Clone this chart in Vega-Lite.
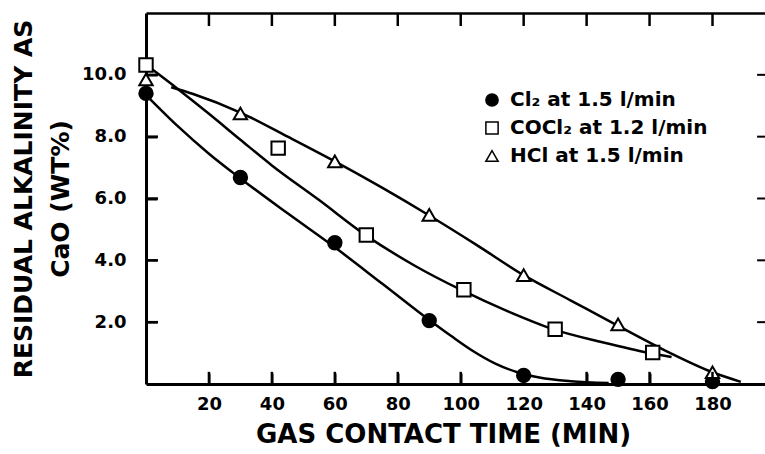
{
  "$schema": "https://vega.github.io/schema/vega-lite/v6.json",
  "width": 620,
  "height": 371,
  "autosize": {"type": "none"},
  "padding": {"left": 146, "top": 13, "right": 0, "bottom": 70},
  "background": "white",
  "config": {
    "view": {"stroke": null},
    "font": "DejaVu Sans",
    "scale": {"continuousPadding": 0},
    "axis": {
      "domainColor": "black",
      "labelColor": "black",
      "titleColor": "black",
      "grid": false,
      "zindex": 1,
      "labelFont": "DejaVu Sans",
      "titleFont": "DejaVu Sans",
      "labelFontWeight": "bold",
      "titleFontWeight": "bold",
      "labelFontSize": 18,
      "titleFontSize": 25,
      "domainWidth": 3
    },
    "legend": {
      "labelFont": "DejaVu Sans",
      "labelFontSize": 20,
      "labelFontWeight": "bold",
      "labelColor": "black",
      "labelLimit": 0,
      "symbolSize": 150
    }
  },
  "datasets": {
    "xticks": [{"t": 20}, {"t": 40}, {"t": 60}, {"t": 80}, {"t": 100}, {"t": 120}, {"t": 140}, {"t": 160}, {"t": 180}],
    "yticks": [{"v": 2}, {"v": 4}, {"v": 6}, {"v": 8}, {"v": 10}],
    "points": [
      {"gas": "Cl₂ at 1.5 l/min", "t": 0, "v": 9.4},
      {"gas": "Cl₂ at 1.5 l/min", "t": 30, "v": 6.68},
      {"gas": "Cl₂ at 1.5 l/min", "t": 60, "v": 4.57},
      {"gas": "Cl₂ at 1.5 l/min", "t": 90, "v": 2.05},
      {"gas": "Cl₂ at 1.5 l/min", "t": 120, "v": 0.28},
      {"gas": "Cl₂ at 1.5 l/min", "t": 150, "v": 0.15},
      {"gas": "Cl₂ at 1.5 l/min", "t": 180, "v": 0.08},
      {"gas": "COCl₂ at 1.2 l/min", "t": 0, "v": 10.32},
      {"gas": "COCl₂ at 1.2 l/min", "t": 42, "v": 7.63},
      {"gas": "COCl₂ at 1.2 l/min", "t": 70, "v": 4.82},
      {"gas": "COCl₂ at 1.2 l/min", "t": 101, "v": 3.05},
      {"gas": "COCl₂ at 1.2 l/min", "t": 130, "v": 1.77},
      {"gas": "COCl₂ at 1.2 l/min", "t": 161, "v": 1.02},
      {"gas": "HCl at 1.5 l/min", "t": 0, "v": 9.85},
      {"gas": "HCl at 1.5 l/min", "t": 30, "v": 8.75},
      {"gas": "HCl at 1.5 l/min", "t": 60, "v": 7.2},
      {"gas": "HCl at 1.5 l/min", "t": 90, "v": 5.47},
      {"gas": "HCl at 1.5 l/min", "t": 120, "v": 3.52},
      {"gas": "HCl at 1.5 l/min", "t": 150, "v": 1.93},
      {"gas": "HCl at 1.5 l/min", "t": 180, "v": 0.38}
    ],
    "curves": [
      {"gas": "Cl2", "t": 0, "v": 9.35},
      {"gas": "Cl2", "t": 10, "v": 8.35},
      {"gas": "Cl2", "t": 20, "v": 7.45},
      {"gas": "Cl2", "t": 30, "v": 6.65},
      {"gas": "Cl2", "t": 45, "v": 5.52},
      {"gas": "Cl2", "t": 60, "v": 4.42},
      {"gas": "Cl2", "t": 75, "v": 3.25},
      {"gas": "Cl2", "t": 90, "v": 2.07},
      {"gas": "Cl2", "t": 97, "v": 1.55},
      {"gas": "Cl2", "t": 104, "v": 1.06},
      {"gas": "Cl2", "t": 111, "v": 0.66},
      {"gas": "Cl2", "t": 118, "v": 0.38},
      {"gas": "Cl2", "t": 125, "v": 0.21},
      {"gas": "Cl2", "t": 135, "v": 0.09},
      {"gas": "Cl2", "t": 147, "v": 0.03},
      {"gas": "COCl2", "t": 1, "v": 10.25},
      {"gas": "COCl2", "t": 10, "v": 9.55},
      {"gas": "COCl2", "t": 20, "v": 8.74},
      {"gas": "COCl2", "t": 30, "v": 7.9},
      {"gas": "COCl2", "t": 40, "v": 7.07},
      {"gas": "COCl2", "t": 55, "v": 5.95},
      {"gas": "COCl2", "t": 70, "v": 4.8},
      {"gas": "COCl2", "t": 85, "v": 3.85},
      {"gas": "COCl2", "t": 100, "v": 3.05},
      {"gas": "COCl2", "t": 115, "v": 2.35},
      {"gas": "COCl2", "t": 130, "v": 1.75},
      {"gas": "COCl2", "t": 145, "v": 1.35},
      {"gas": "COCl2", "t": 160, "v": 1.0},
      {"gas": "COCl2", "t": 167, "v": 0.87},
      {"gas": "HCl", "t": 8, "v": 9.6},
      {"gas": "HCl", "t": 15, "v": 9.38},
      {"gas": "HCl", "t": 30, "v": 8.78},
      {"gas": "HCl", "t": 45, "v": 8.0},
      {"gas": "HCl", "t": 60, "v": 7.2},
      {"gas": "HCl", "t": 75, "v": 6.35},
      {"gas": "HCl", "t": 90, "v": 5.45},
      {"gas": "HCl", "t": 105, "v": 4.5},
      {"gas": "HCl", "t": 120, "v": 3.52},
      {"gas": "HCl", "t": 135, "v": 2.7},
      {"gas": "HCl", "t": 150, "v": 1.88},
      {"gas": "HCl", "t": 165, "v": 1.08},
      {"gas": "HCl", "t": 180, "v": 0.38},
      {"gas": "HCl", "t": 189, "v": 0.07}
    ]
  },
  "resolve": {"axis": {"x": "independent", "y": "independent"}},
  "layer": [
    {
      "data": {"name": "curves"},
      "mark": {"type": "line", "interpolate": "monotone", "color": "black", "strokeWidth": 2.5},
      "encoding": {
        "x": {
          "field": "t", "type": "quantitative",
          "scale": {"domain": [0, 197], "nice": false, "zero": false, "padding": 0},
          "axis": {
            "orient": "bottom",
            "values": [20, 40, 60, 80, 100, 120, 140, 160, 180],
            "offset": -11,
            "tickSize": 11,
            "tickColor": "black",
            "tickWidth": 2,
            "domain": false,
            "labelPadding": 11,
            "title": "GAS CONTACT TIME (MIN)",
            "titleFontSize": 26,
            "titlePadding": 8,
            "titleX": 297
          }
        },
        "y": {
          "field": "v", "type": "quantitative",
          "scale": {"domain": [0, 12], "nice": false, "padding": 0},
          "axis": {
            "orient": "left",
            "values": [2, 4, 6, 8, 10],
            "format": ".1f",
            "offset": -11,
            "tickSize": 11,
            "tickColor": "black",
            "tickWidth": 2,
            "domain": false,
            "labelPadding": 20,
            "title": ["RESIDUAL ALKALINITY AS", "CaO (WT%)"],
            "titleLineHeight": 37,
            "titlePadding": 8
          }
        },
        "detail": {"field": "gas"}
      }
    },
    {
      "data": {"name": "points"},
      "mark": {"type": "point", "stroke": "black", "strokeWidth": 2, "size": 180, "opacity": 1},
      "encoding": {
        "x": {
          "field": "t", "type": "quantitative",
          "axis": {"orient": "top", "ticks": false, "labels": false, "title": null, "domainWidth": 2.5}
        },
        "y": {
          "field": "v", "type": "quantitative",
          "axis": null
        },
        "shape": {
          "field": "gas", "type": "nominal",
          "scale": {
            "domain": ["Cl₂ at 1.5 l/min", "COCl₂ at 1.2 l/min", "HCl at 1.5 l/min"],
            "range": ["circle", "square", "triangle-up"]
          },
          "legend": {"title": null, "orient": "none", "legendX": 336, "legendY": 77, "padding": 0, "rowPadding": 8, "labelOffset": 8, "labelLimit": 0,
            "encode": {"symbols": {"update": {"stroke": {"value": "black"}, "strokeWidth": {"value": 2}}}}}
        },
        "fill": {
          "field": "gas", "type": "nominal",
          "scale": {
            "domain": ["Cl₂ at 1.5 l/min", "COCl₂ at 1.2 l/min", "HCl at 1.5 l/min"],
            "range": ["black", "white", "white"]
          },
          "legend": {"title": null, "orient": "none", "legendX": 336, "legendY": 77, "padding": 0, "rowPadding": 8, "labelOffset": 8, "labelLimit": 0,
            "encode": {"symbols": {"update": {"stroke": {"value": "black"}, "strokeWidth": {"value": 2}}}}}
        }
      }
    },
    {
      "data": {"name": "points"},
      "mark": {"type": "point", "opacity": 0},
      "encoding": {
        "x": {
          "field": "t", "type": "quantitative",
          "axis": {"orient": "bottom", "ticks": false, "labels": false, "title": null, "domainWidth": 3}
        },
        "y": {
          "field": "v", "type": "quantitative",
          "axis": {"orient": "left", "ticks": false, "labels": false, "title": null, "domainWidth": 3}
        }
      }
    },
    {
      "data": {"name": "xticks"},
      "mark": {"type": "tick", "color": "black", "orient": "vertical", "size": 12, "thickness": 2.5, "opacity": 1},
      "encoding": {
        "x": {"field": "t", "type": "quantitative", "axis": null},
        "y": {"datum": 0.2, "type": "quantitative", "axis": null}
      }
    },
    {
      "data": {"name": "xticks"},
      "mark": {"type": "tick", "color": "black", "orient": "vertical", "size": 13, "thickness": 2.5, "opacity": 1},
      "encoding": {
        "x": {"field": "t", "type": "quantitative", "axis": null},
        "y": {"datum": 11.79, "type": "quantitative", "axis": null}
      }
    },
    {
      "data": {"name": "yticks"},
      "mark": {"type": "tick", "color": "black", "orient": "horizontal", "size": 12, "thickness": 2.5, "opacity": 1},
      "encoding": {
        "y": {"field": "v", "type": "quantitative", "axis": null},
        "x": {"datum": 1.9, "type": "quantitative", "axis": null}
      }
    },
    {
      "data": {"name": "yticks"},
      "mark": {"type": "tick", "color": "black", "orient": "horizontal", "size": 9, "thickness": 2, "opacity": 1},
      "encoding": {
        "y": {"field": "v", "type": "quantitative", "axis": null},
        "x": {"datum": 195.6, "type": "quantitative", "axis": null}
      }
    }
  ]
}
